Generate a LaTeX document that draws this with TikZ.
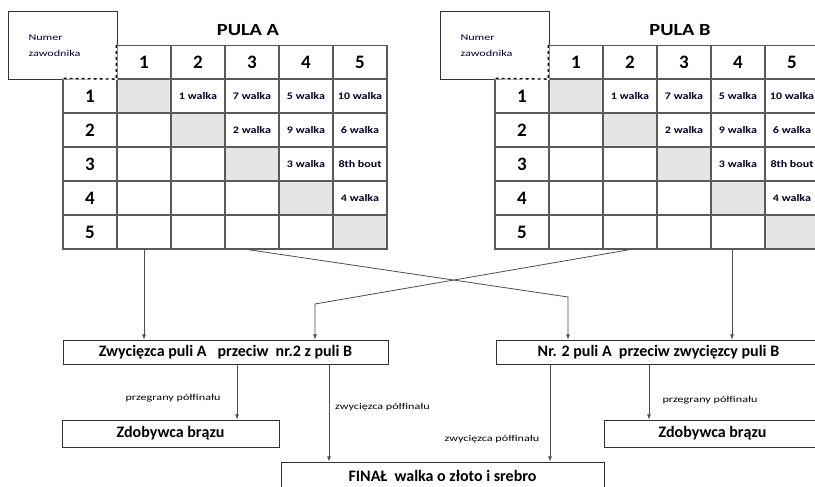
\documentclass[tikz,border=0pt]{standalone}
\usepackage{fontspec}
\setmainfont{Carlito}
\newfontfamily\labelfont{Carlito}[FakeStretch=1.35]
\newfontfamily\cellfont{Carlito}[FakeStretch=1.2]
\newfontfamily\titlefont{Carlito}[FakeStretch=1.2]

\begin{document}
\begin{tikzpicture}[x=1pt,y=-1pt,
	cell/.style={draw=black!65,line width=1.2pt,minimum width=54pt,minimum height=34pt,inner sep=0pt,font=\cellfont\bfseries\fontsize{10}{10}\selectfont,text=black!85!blue},
	head/.style={cell,minimum height=33pt,font=\bfseries\fontsize{19}{19}\selectfont,text=black},
	numbox/.style={draw=black!80,line width=1pt,anchor=north west,minimum height=68pt,text width=69pt,inner xsep=20pt,align=left,font=\labelfont\fontsize{9}{16}\selectfont,text=black!80!blue},
	title/.style={font=\titlefont\bfseries\fontsize{17}{17}\selectfont},
	box/.style={draw=black!80,line width=1pt,inner sep=0pt,font=\bfseries\fontsize{16}{16}\selectfont},
	conn/.style={-latex,draw=black!70,line width=0.8pt},
	lbl/.style={font=\labelfont\fontsize{9}{9}\selectfont,inner sep=0pt}]
	\useasboundingbox (0,0) rectangle (815,487);
	\clip (0,0) rectangle (815,487);

	% Draw both pools
	\foreach \p/\dx in {A/0,B/432}{
		\node[numbox] (\p-num) at ({8+\dx},11) {Numer\\zawodnika};
		\node[title] (\p-title) at ({248+\dx},30) {PULA \p};
		\foreach \c in {1,...,5}{
			\node[head] (\p-h-\c) at ({90+54*\c+\dx},62) {\c};
			\node[head,minimum height=34pt] (\p-\c-0) at ({90+\dx},{62+34*\c}) {\c};
		}
		\foreach \r/\row in {1/{{},1 walka,7 walka,5 walka,10 walka},2/{{},{},2 walka,9 walka,6 walka},3/{{},{},{},3 walka,8th bout},4/{{},{},{},{},4 walka},5/{{},{},{},{},{}}}{
			\foreach \t [count=\c] in \row{
				\ifnum\c=\r \def\cellcol{gray!20}\else\def\cellcol{white}\fi
				\node[cell,fill=\cellcol] (\p-\r-\c) at ({90+54*\c+\dx},{62+34*\r}) {\t};
			}
		}
		% Dashed corner of the number box
		\draw[white,line width=2pt] (\p-h-1.north west) -- (\p-h-1.south west) -- (\p-1-0.north west);
		\draw[dashed,line width=1.4pt] (\p-h-1.north west) -- (\p-h-1.south west) -- (\p-1-0.north west);
	}

	% Draw semifinals, bronze and final
	\node[box,minimum width=325pt,minimum height=24pt] (semiA) at (225.5,352) {Zwycięzca puli A\ \ \ przeciw\ \ nr.2 z puli B};
	\node[box,minimum width=325pt,minimum height=24pt] (semiB) at (658.5,352) {Nr. 2 puli A\ \ przeciw zwycięzcy puli B};
	\node[box,minimum width=217pt,minimum height=27pt] (bronzeA) at (170.5,433.5) {Zdobywca brązu};
	\node[box,minimum width=217pt,minimum height=27pt] (bronzeB) at (712.5,433.5) {Zdobywca brązu};
	\node[box,minimum width=323pt,minimum height=28pt] (final) at (442.5,476) {FINAŁ\ \ walka o złoto i srebro};

	% Pool places to semifinals
	\coordinate (outA) at ([xshift=-4pt]A-5-3.south);
	\coordinate (outB) at ([xshift=-6pt]B-5-4.south);
	\coordinate (crossA) at (568,297);
	\coordinate (crossB) at (315,304);
	\draw[conn] (A-5-1.south) -- (A-5-1.south |- semiA.north);
	\draw[conn] (outA) -- (crossA) -- (crossA |- semiB.north);
	\draw[conn] (B-5-2.south) -- (crossB) -- (crossB |- semiA.north);
	\draw[conn] (outB) -- (outB |- semiB.north);

	% Semifinals to medals
	\coordinate (loseA) at ([xshift=11.5pt]semiA.south);
	\coordinate (winA) at ([xshift=103.5pt]semiA.south);
	\coordinate (winB) at ([xshift=-108.5pt]semiB.south);
	\coordinate (loseB) at ([xshift=-9.5pt]semiB.south);
	\draw[conn] (loseA) -- (loseA |- bronzeA.north);
	\draw[conn] (winA) -- (winA |- final.north);
	\draw[conn] (winB) -- (winB |- final.north);
	\draw[conn] (loseB) -- (loseB |- bronzeB.north);
	\node[lbl] (loseA-lbl) at (173,398) {przegrany półfinału};
	\node[lbl,anchor=west] (winA-lbl) at (335,407) {zwycięzca półfinału};
	\node[lbl] (winB-lbl) at (492,439) {zwycięzca półfinału};
	\node[lbl] (loseB-lbl) at (710,400) {przegrany półfinału};
\end{tikzpicture}
\end{document}
